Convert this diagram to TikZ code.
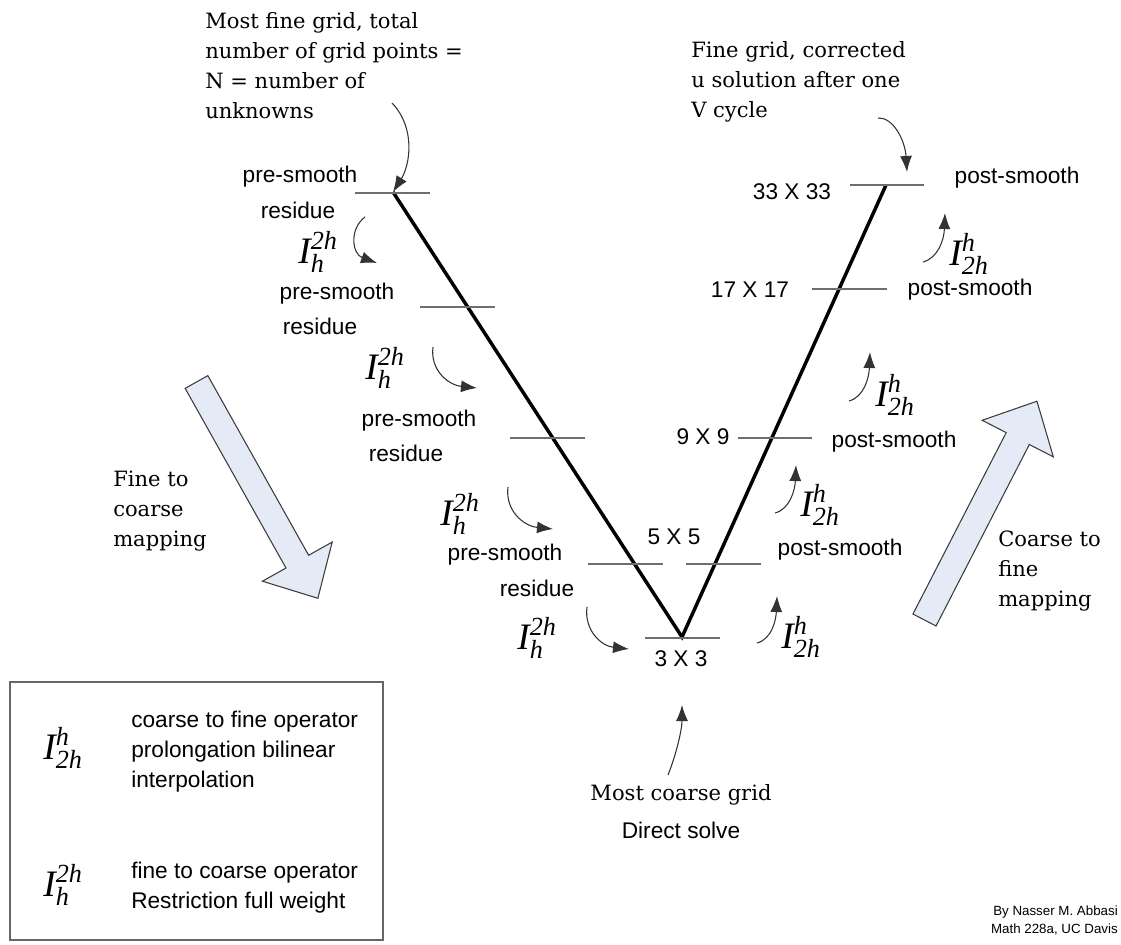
\documentclass[tikz,border=0pt]{standalone}
\usepackage{fix-cm}
\usepackage{amsmath}
\usepackage{fontspec}
\setsansfont{Liberation Sans}
\newfontfamily\annfont{DejaVu Serif}
\newfontfamily\opfont{Liberation Serif}
\usepackage{tikz}
\usetikzlibrary{arrows.meta,positioning}
\definecolor{tickgray}{HTML}{6E6E6E}
\definecolor{blockfill}{HTML}{E4EAF6}
\definecolor{blockline}{HTML}{3C3C3C}
\newcommand{\opl}[1]{\text{\opfont\itshape #1}}
\newcommand{\Irs}{$\opl{I}^{\opl{2h}}_{\opl{h}}$}
\newcommand{\Ipr}{$\opl{I}^{\opl{h}}_{\opl{2h}}$}

\begin{document}
\begin{tikzpicture}[
  x=0.75pt, y=-0.75pt,
  lab/.style={font=\sffamily\fontsize{17}{22.5}\selectfont, inner sep=0pt},
  ann/.style={font=\annfont\fontsize{15.8}{22.5}\selectfont, align=left, inner sep=0pt},
  op/.style={font=\fontsize{28}{32}\selectfont, inner sep=0pt},
  tick/.style={draw=tickgray, line width=1pt},
  vline/.style={line width=2.6pt, line join=miter},
  curv/.style={draw=black!80, line width=0.8pt, -{Latex[length=12pt,width=9pt]}},
  blockarrow/.style={draw=blockline, fill=blockfill, line width=0.8pt, line join=miter},
  legbox/.style={draw=black!60, line width=0.9pt},
]
\useasboundingbox (0,0) rectangle (1121,945);

% V cycle
\coordinate (vl) at (393,192);
\coordinate (vb) at (682,637);
\coordinate (vr) at (886,185);
\draw[vline] (vl) -- (vb) -- (vr);

% grid levels
\draw[tick] (355,193) -- (430,193);
\draw[tick] (420,307) -- (495,307);
\draw[tick] (510,438) -- (585,438);
\draw[tick] (588,564) -- (663,564);
\draw[tick] (645,638) -- (720,638);
\draw[tick] (686,564) -- (761,564);
\draw[tick] (738,438) -- (812,438);
\draw[tick] (812,289) -- (887,289);
\draw[tick] (850,185) -- (924,185);

% going down
\node[lab] (pre1) at (300,177) {pre-smooth};
\node[lab] (res1) at (298,210) {residue};
\node[op] (R1) at (318,252) {\Irs};
\node[lab] (pre2) at (337,294) {pre-smooth};
\node[lab] (res2) at (320,326) {residue};
\node[op] (R2) at (385,368) {\Irs};
\node[lab] (pre3) at (419,421) {pre-smooth};
\node[lab] (res3) at (406,453) {residue};
\node[op] (R3) at (460,514) {\Irs};
\node[lab] (pre4) at (505,555) {pre-smooth};
\node[lab] (res4) at (537,588) {residue};
\node[op] (R4) at (537,638) {\Irs};

\coordinate (r1a) at (365,217); \coordinate (r1b) at (377,263);
\coordinate (r2a) at (433,347); \coordinate (r2b) at (477,388);
\coordinate (r3a) at (508,487); \coordinate (r3b) at (553,529);
\coordinate (r4a) at (587,607); \coordinate (r4b) at (629,649);
\draw[curv] (r1a) .. controls (349,229) and (352,254) .. (r1b);
\draw[curv] (r2a) .. controls (430,370) and (448,385) .. (r2b);
\draw[curv] (r3a) .. controls (505,510) and (523,526) .. (r3b);
\draw[curv] (r4a) .. controls (584,630) and (601,646) .. (r4b);

% going up
\node[lab] (g33) at (792,192) {33 X 33};
\node[lab] (post33) at (1017,178) {post-smooth};
\node[op] (P1) at (969,254) {\Ipr};
\node[lab] (g17) at (750,290) {17 X 17};
\node[lab] (post17) at (970,290) {post-smooth};
\node[op] (P2) at (895,395) {\Ipr};
\node[lab] (g9) at (703,437) {9 X 9};
\node[lab] (post9) at (894,442) {post-smooth};
\node[op] (P3) at (820,505) {\Ipr};
\node[lab] (g5) at (674,537) {5 X 5};
\node[lab] (post5) at (840,550) {post-smooth};
\node[op] (P4) at (801,637) {\Ipr};
\node[lab] (g3) at (681,659) {3 X 3};

\coordinate (p1a) at (923,262); \coordinate (p1b) at (945,213);
\coordinate (p2a) at (849,401); \coordinate (p2b) at (870,352);
\coordinate (p3a) at (775,513); \coordinate (p3b) at (796,465);
\coordinate (p4a) at (757,643); \coordinate (p4b) at (777,596);
\draw[curv] (p1a) .. controls (938,258) and (944,240) .. (p1b);
\draw[curv] (p2a) .. controls (864,397) and (869,378) .. (p2b);
\draw[curv] (p3a) .. controls (790,509) and (795,490) .. (p3b);
\draw[curv] (p4a) .. controls (772,639) and (776,620) .. (p4b);

% notes
\node[ann, anchor=west] (finest) at (205,66) {Most fine grid, total\\number of grid points =\\N = number of\\unknowns};
\node[ann, anchor=west] (corrected) at (691,82) {Fine grid, corrected\\u solution after one\\V cycle};
\node[ann] (coarsest) at (681,795) {Most coarse grid};
\node[lab] (direct) at (681,830) {Direct solve};
\coordinate (fa) at (392,103);
\coordinate (ca) at (878,118); \coordinate (cb) at (907,172);
\coordinate (ma) at (668,775); \coordinate (mb) at (682,705);
\draw[curv] (fa) .. controls (416,128) and (410,165) .. (vl);
\draw[curv] (ca) .. controls (893,117) and (905,140) .. (cb);
\draw[curv] (ma) .. controls (676,755) and (682,730) .. (mb);

% mapping arrows
\begin{scope}[shift={(196.5,382)}, rotate=-60.7]
  \draw[blockarrow] (0,-13) -- (206,-13) -- (206,-40) -- (248,0) -- (206,40) -- (206,13) -- (0,13) -- cycle;
\end{scope}
\begin{scope}[shift={(924.5,620)}, rotate=62.8]
  \draw[blockarrow] (0,-13) -- (204,-13) -- (204,-40) -- (246,0) -- (204,40) -- (204,13) -- (0,13) -- cycle;
\end{scope}
\node[ann, anchor=west] (f2c) at (113,511) {Fine to\\coarse\\mapping};
\node[ann, anchor=west] (c2f) at (998,571) {Coarse to\\fine\\mapping};

% legend
\draw[legbox] (10,682) rectangle (383,940);
\node[op] (legP) at (63,748) {\Ipr};
\node[lab, anchor=west, align=left] (legPtxt) at (131,752) {coarse to fine operator\\prolongation bilinear\\interpolation};
\node[op] (legR) at (63,885) {\Irs};
\node[lab, anchor=west, align=left] (legRtxt) at (131,888) {fine to coarse operator\\Restriction full weight};

\node[font=\sffamily\fontsize{10}{13.5}\selectfont, align=right, anchor=east, inner sep=0pt] (credit) at (1118,921) {By Nasser M. Abbasi\\Math 228a, UC Davis};
\end{tikzpicture}
\end{document}
